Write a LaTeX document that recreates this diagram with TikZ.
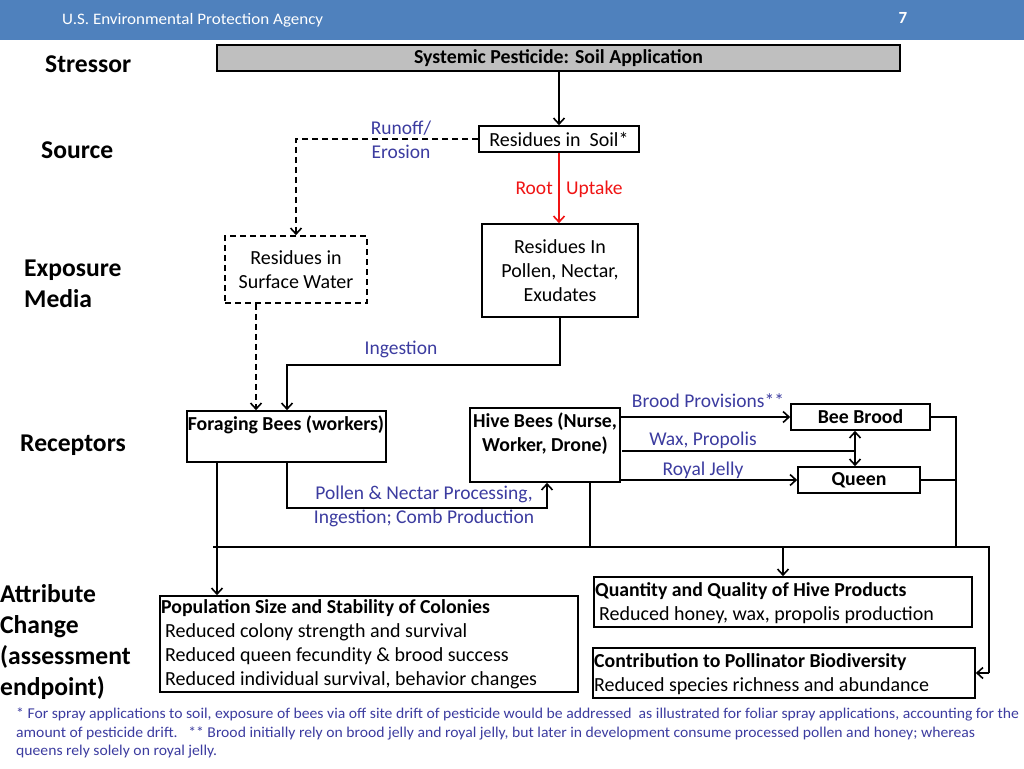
\documentclass[tikz,border=0pt]{standalone}
\usepackage{fontspec}
\setmainfont{Carlito}
\usetikzlibrary{arrows.meta,calc}
\definecolor{hdr}{RGB}{79,129,189}
\definecolor{lbl}{RGB}{60,60,160}
\definecolor{gfill}{RGB}{191,191,191}
\definecolor{rootred}{RGB}{240,20,20}
\begin{document}
\begin{tikzpicture}[x=1pt,y=-1pt,
 bx/.style={draw=black,line width=1.6pt,inner sep=0pt},
 bt/.style={font=\fontsize{20}{24}\selectfont,align=center,inner sep=0pt},
 bb/.style={font=\bfseries\fontsize{19.8}{24}\selectfont,align=center,inner sep=0pt},
 lab/.style={font=\fontsize{19.5}{24}\selectfont,text=lbl,align=center,inner sep=0pt},
 side/.style={font=\bfseries\fontsize{25.6}{31}\selectfont,align=left,inner sep=0pt,anchor=west},
 conn/.style={line width=1.6pt},
 arr/.style={conn,-{Straight Barb[length=6pt,width=11pt]}},
 dsh/.style={dash pattern=on 6pt off 4pt},
 foot/.style={font=\fontsize{15}{19}\selectfont,text=lbl,inner sep=0pt,anchor=base west}]
\useasboundingbox (0,0) rectangle (1024,768);
\fill[white] (0,0) rectangle (1024,768);
\fill[hdr] (0,0) rectangle (1024,40);
\node[anchor=west,inner sep=0pt,text=white,font=\fontsize{16}{18}\selectfont] (agency) at (62,20) {\resizebox{261pt}{\height}{U.S. Environmental Protection Agency}};
\node[inner sep=0pt,text=white,font=\bfseries\fontsize{17}{18}\selectfont] (pnum) at (903,18) {7};

% side labels
\node[side] (lstress) at (45,64) {Stressor};
\node[side] (lsource) at (41,150) {Source};
\node[side] (lexpo) at (24,283.5) {Exposure\\Media};
\node[side] (lrecep) at (20,445) {Receptors};
\node[side] (lattr) at (0,642.5) {Attribute\\Change\\(assessment\\endpoint)};

% boxes
\node[bx,fill=gfill,bb,minimum width=683pt,minimum height=26pt] (top) at (558.5,58) {Systemic Pesticide: Soil Application};
\node[bx,bt,minimum width=160pt,minimum height=26pt] (soil) at (559,139) {Residues in~ Soil*};
\node[bx,bt,minimum width=156pt,minimum height=93pt] (pollen) at (560,270.5) {Residues In\\Pollen, Nectar,\\Exudates};
\node[bx,dsh,bt,minimum width=142pt,minimum height=67pt] (sw) at (296,269.5) {Residues in\\Surface Water};
\node[bx,minimum width=199pt,minimum height=51pt] (forage) at (286.5,436.5) {};
\node[bb] (foraget) at (286,425) {Foraging Bees (workers)};
\node[bx,minimum width=150pt,minimum height=74pt] (hive) at (545,445) {};
\node[bb] (hivet) at (545,434) {Hive Bees (Nurse,\\Worker, Drone)};
\node[bx,bb,minimum width=139pt,minimum height=26pt] (brood) at (860.5,417) {Bee Brood};
\node[bx,bb,minimum width=122pt,minimum height=26pt] (queen) at (859,480) {Queen};
\node[bx,minimum width=418pt,minimum height=96pt] (pop) at (369,644) {};
\node[bt,align=left,anchor=west] (popt) at (161,644) {\textbf{\fontsize{19.8}{24}\selectfont Population Size and Stability of Colonies}\\\hspace*{4pt}Reduced colony strength and survival\\\hspace*{4pt}Reduced queen fecundity \& brood success\\\hspace*{4pt}Reduced individual survival, behavior changes};
\node[bx,minimum width=378pt,minimum height=50pt] (prod) at (783,602) {};
\node[bt,align=left,anchor=west] (prodt) at (595,603) {\textbf{\fontsize{19.8}{24}\selectfont Quantity and Quality of Hive Products}\\\hspace*{4pt}Reduced honey, wax, propolis production};
\node[bx,minimum width=382pt,minimum height=50pt] (bio) at (784,673) {};
\node[bt,align=left,anchor=west] (biot) at (594,674) {\textbf{\fontsize{19.8}{24}\selectfont Contribution to Pollinator Biodiversity}\\Reduced species richness and abundance};

% helper coordinates
\coordinate (xd) at (256,0);
\coordinate (xi) at (287,0);
\coordinate (xh) at (547,0);
\coordinate (xw) at (855,0);
\coordinate (xr) at (956,0);
\coordinate (xb) at (989,0);
\coordinate (xf) at (217,0);
\coordinate (xl) at (213,0);
\coordinate (xhd) at (590,0);
\coordinate (yi) at (0,365);
\coordinate (yp) at (0,508);
\coordinate (yw) at (0,451);
\coordinate (ybus) at (0,547);

% connectors
\draw[arr] (soil.north |- top.south) -- (soil.north);
\draw[conn,dsh,-{Straight Barb[length=6pt,width=11pt]}] (soil.west) -- (soil.west -| sw.north) -- (sw.north);
\draw[arr,draw=rootred] (soil.south) -- (soil.south |- pollen.north);
\draw[conn,dsh,-{Straight Barb[length=6pt,width=11pt]}] (xd |- sw.south) -- (xd |- forage.north);
\draw[arr] (pollen.south) -- (pollen.south |- yi) -| (xi |- forage.north);
\draw[arr] (xi |- forage.south) -- (xi |- yp) -| (xh |- hive.south);
\draw[arr] (hive.east |- brood.west) -- (brood.west);
\draw[conn] (622,451) -- (xw |- yw);
\draw[conn,{Straight Barb[length=6pt,width=11pt]}-{Straight Barb[length=6pt,width=11pt]}] (xw |- brood.south) -- (xw |- queen.north);
\draw[arr] (hive.east |- queen.west) -- (queen.west);
\draw[conn] (brood.east) -- (xr |- brood.east) -- (xr |- ybus);
\draw[conn] (queen.east) -- (xr |- queen.east);
\draw[conn] (xl |- ybus) -- (xb |- ybus) -- (xb |- bio.east);
\draw[arr] (xb |- bio.east) -- (bio.east);
\draw[arr] (xf |- forage.south) -- (xf |- pop.north);
\draw[conn] (xhd |- hive.south) -- (xhd |- ybus);
\draw[arr] (prod.north |- ybus) -- (prod.north);

% connector labels
\node[lab] (lrun) at (401,140) {Runoff/\\Erosion};
\node[lab,text=rootred,anchor=base east] (lroot) at (553,194) {Root};
\node[lab,text=rootred,anchor=base west] (lupt) at (566,194) {Uptake};
\node[lab] (ling) at (401,349) {Ingestion};
\node[lab] (lproc) at (424,506) {Pollen \& Nectar Processing,\\Ingestion; Comb Production};
\node[lab] (lbrood) at (708,401) {Brood Provisions**};
\node[lab] (lwax) at (703,440) {Wax, Propolis};
\node[lab] (lroyal) at (703,470) {Royal Jelly};

% footnote
\node[foot] (f1) at (16,718) {\resizebox{1003pt}{\height}{* For spray applications to soil, exposure of bees via off site drift of pesticide would be addressed\ \ as illustrated for foliar spray applications, accounting for the}};
\node[foot] (f2) at (16,737) {\resizebox{959pt}{\height}{amount of pesticide drift.\ \ \ ** Brood initially rely on brood jelly and royal jelly, but later in development consume processed pollen and honey; whereas}};
\node[foot] (f3) at (16,755) {\resizebox{201pt}{\height}{queens rely solely on royal jelly.}};
\end{tikzpicture}
\end{document}
